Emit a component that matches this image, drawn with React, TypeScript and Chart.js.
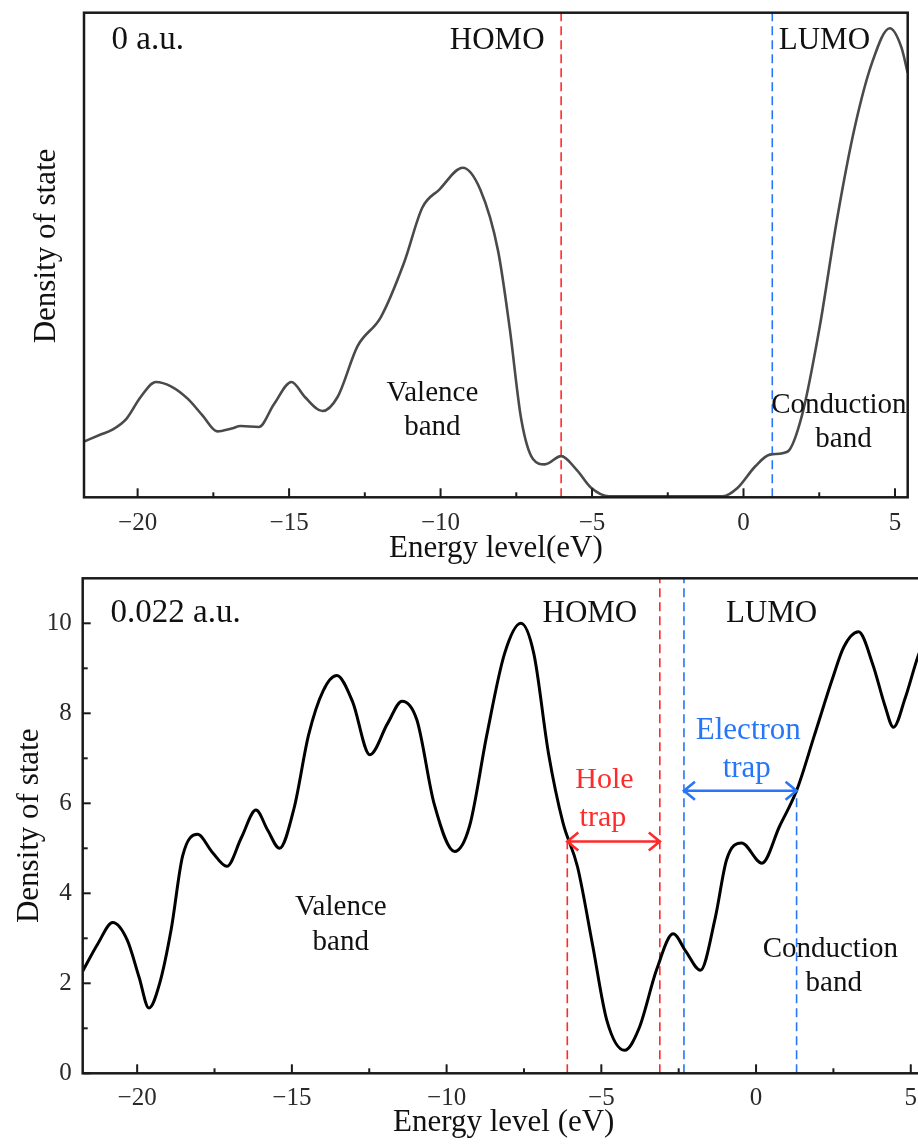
import React, { useEffect, useRef } from "react";
import { Chart, registerables } from "chart.js";

Chart.register(...registerables);

// ---------- data ----------
const topEnergy = [
  -21.77, -21.2, -20.85, -20.37, -19.9, -19.4, -18.9, -18.34, -17.86, -17.37, -16.9, -16.6, -16.0,
  -15.5, -14.92, -14.48, -13.9, -13.4, -12.74, -11.97, -11.2, -10.6, -10.04, -9.27, -8.69, -8.1,
  -7.72, -7.34, -6.95, -6.56, -6.02, -5.5, -5.02, -4.44, -0.68, -0.2, 0.39, 0.87, 1.45, 1.93, 2.51,
  3.09, 3.67, 4.25, 4.83, 5.21, 5.42,
];
const topDos = [
  11.5, 13.0, 13.9, 16.2, 20.7, 23.8, 22.9, 20.3, 16.9, 13.6, 14.2, 14.7, 14.5,
  19.2, 23.8, 20.7, 17.8, 20.7, 31.2, 37.2, 48.5, 59.8, 63.5, 68.0, 63.5, 50.8,
  35.0, 16.2, 7.9, 6.8, 8.5, 5.6, 1.9, 0.2, 0.2, 1.9, 6.4, 8.8, 9.4, 16.9, 35.0,
  57.5, 76.3, 89.8, 96.8, 92.9, 87.6,
];

const bottomEnergy = [
  -21.76, -21.27, -20.79, -20.32, -19.94, -19.62, -19.28, -18.9, -18.53, -18.05, -17.58, -17.1,
  -16.63, -16.16, -15.78, -15.4, -14.93, -14.46, -13.99, -13.55, -13.04, -12.48, -11.91, -11.44,
  -10.96, -10.4, -9.74, -9.26, -8.7, -8.13, -7.6, -7.18, -6.71, -6.24, -5.77, -5.29, -4.82, -4.25,
  -3.78, -3.21, -2.68, -2.27, -1.8, -1.32, -0.95, -0.47, 0.19, 0.76, 1.32, 1.89, 2.46, 2.84, 3.31,
  3.78, 4.16, 4.44, 4.82, 5.26, 5.45,
];
const bottomDos = [
  2.27, 2.88, 3.35, 2.96, 2.14, 1.45, 1.98, 3.2, 4.83, 5.31, 4.92, 4.6,
  5.24, 5.85, 5.4, 5.0, 5.89, 7.52, 8.5, 8.84, 8.26, 7.08, 7.77, 8.27,
  7.85, 5.98, 4.93, 5.49, 7.52, 9.32, 10.0, 9.32, 7.12, 5.57, 4.59, 2.88, 1.17, 0.51,
  1.0, 2.31, 3.1, 2.71, 2.29, 3.45, 4.75, 5.12, 4.67, 5.49, 6.3, 7.52, 8.75, 9.48, 9.81,
  9.07, 8.18, 7.69, 8.34, 9.32, 9.6,
];

const xMajorTicks = [-20, -15, -10, -5, 0, 5];
const xMinorTicks = [-17.5, -12.5, -7.5, -2.5, 2.5];
const yMajorTicks = [0, 2, 4, 6, 8, 10];
const yMinorTicks = [1, 3, 5, 7, 9];

// energy levels (eV)
const topHomo = -6.02;
const topLumo = 0.95;
const holeTrapStart = -6.1;
const holeTrapEnd = -3.11;
const electronTrapStart = -2.33;
const electronTrapEnd = 1.31;
const holeTrapLevel = 5.15;
const electronTrapLevel = 6.28;

// ---------- styling ----------
const FAMILY = "'Liberation Serif', 'Times New Roman', serif";
const RED = "#ff2a2a";
const BLUE = "#2676f5";
const INK = "#111";

type Label = { text: string; x: number; y: number; size: number; color?: string; align?: CanvasTextAlign };
type VLine = { x: number; from: number; to: number; color: string };
type Arrow = { x1: number; x2: number; y: number; color: string };

const topLabels: Label[] = [
  { text: "0 a.u.", x: -20.86, y: 92.5, size: 33, align: "left" },
  { text: "HOMO", x: -8.13, y: 92.5, size: 31 },
  { text: "LUMO", x: 2.67, y: 92.5, size: 31 },
  { text: "Valence", x: -10.27, y: 19.9, size: 29 },
  { text: "band", x: -10.27, y: 12.8, size: 29 },
  { text: "Conduction", x: 3.15, y: 17.3, size: 29 },
  { text: "band", x: 3.3, y: 10.3, size: 29 },
];
const bottomLabels: Label[] = [
  { text: "0.022 a.u.", x: -20.86, y: 10.04, size: 33, align: "left" },
  { text: "HOMO", x: -5.37, y: 10.02, size: 31 },
  { text: "LUMO", x: 0.5, y: 10.02, size: 31 },
  { text: "Hole", x: -4.9, y: 6.33, size: 30, color: RED },
  { text: "trap", x: -4.95, y: 5.5, size: 30, color: RED },
  { text: "Electron", x: -0.25, y: 7.43, size: 31, color: BLUE },
  { text: "trap", x: -0.3, y: 6.59, size: 31, color: BLUE },
  { text: "Valence", x: -13.42, y: 3.52, size: 29 },
  { text: "band", x: -13.42, y: 2.74, size: 29 },
  { text: "Conduction", x: 2.4, y: 2.59, size: 29 },
  { text: "band", x: 2.51, y: 1.84, size: 29 },
];

const topLines: VLine[] = [
  { x: topHomo, from: 0, to: 100, color: RED },
  { x: topLumo, from: 0, to: 100, color: BLUE },
];
const bottomLines: VLine[] = [
  { x: holeTrapStart, from: 0, to: holeTrapLevel, color: RED },
  { x: holeTrapEnd, from: 0, to: 11, color: RED },
  { x: electronTrapStart, from: 0, to: 11, color: BLUE },
  { x: electronTrapEnd, from: 0, to: electronTrapLevel, color: BLUE },
];
const bottomArrows: Arrow[] = [
  { x1: holeTrapStart, x2: holeTrapEnd, y: holeTrapLevel, color: RED },
  { x1: electronTrapStart, x2: electronTrapEnd, y: electronTrapLevel, color: BLUE },
];

const fmt = (v: any) => {
  const n = Number(v);
  return n < 0 ? "\u2212" + Math.abs(n) : String(n);
};

function makeOverlay(opts: {
  lines: VLine[];
  arrows: Arrow[];
  labels: Label[];
  yMajor?: number[];
  yMinor?: number[];
  yTitle?: { text: string; x: number; dy: number };
}) {
  return {
    id: "overlay",
    beforeDatasetsDraw(chart: any) {
      const { ctx } = chart;
      const xs = chart.scales.x;
      const ys = chart.scales.y;
      ctx.save();
      ctx.lineWidth = 1.6;
      ctx.setLineDash([9, 5]);
      for (const l of opts.lines) {
        const px = xs.getPixelForValue(l.x);
        ctx.strokeStyle = l.color;
        ctx.beginPath();
        ctx.moveTo(px, ys.getPixelForValue(l.from));
        ctx.lineTo(px, ys.getPixelForValue(l.to));
        ctx.stroke();
      }
      ctx.restore();
    },
    afterDatasetsDraw(chart: any) {
      const { ctx, chartArea } = chart;
      const xs = chart.scales.x;
      const ys = chart.scales.y;
      ctx.save();
      // frame
      ctx.strokeStyle = "#1a1a1a";
      ctx.lineWidth = 2.5;
      ctx.strokeRect(chartArea.left, chartArea.top, chartArea.right - chartArea.left, chartArea.bottom - chartArea.top);
      // inward ticks
      ctx.lineWidth = 2;
      const b = chartArea.bottom;
      const tickX = (vals: number[], len: number) => {
        for (const v of vals) {
          const px = xs.getPixelForValue(v);
          ctx.beginPath();
          ctx.moveTo(px, b);
          ctx.lineTo(px, b - len);
          ctx.stroke();
        }
      };
      tickX(xMajorTicks, 9);
      tickX(xMinorTicks, 5);
      const tickY = (vals: number[], len: number) => {
        for (const v of vals) {
          const py = ys.getPixelForValue(v);
          ctx.beginPath();
          ctx.moveTo(chartArea.left, py);
          ctx.lineTo(chartArea.left + len, py);
          ctx.stroke();
        }
      };
      if (opts.yMajor) tickY(opts.yMajor, 8);
      if (opts.yMinor) tickY(opts.yMinor, 5);
      // arrows
      ctx.lineWidth = 2.6;
      for (const a of opts.arrows) {
        const x1 = xs.getPixelForValue(a.x1);
        const x2 = xs.getPixelForValue(a.x2);
        const y = ys.getPixelForValue(a.y);
        ctx.strokeStyle = a.color;
        ctx.beginPath();
        ctx.moveTo(x1, y);
        ctx.lineTo(x2, y);
        ctx.moveTo(x1 + 11, y - 9);
        ctx.lineTo(x1, y);
        ctx.lineTo(x1 + 11, y + 9);
        ctx.moveTo(x2 - 11, y - 9);
        ctx.lineTo(x2, y);
        ctx.lineTo(x2 - 11, y + 9);
        ctx.stroke();
      }
      // labels
      ctx.textBaseline = "alphabetic";
      for (const l of opts.labels) {
        ctx.font = `${l.size}px ${FAMILY}`;
        ctx.fillStyle = l.color || INK;
        ctx.textAlign = l.align || "center";
        ctx.fillText(l.text, xs.getPixelForValue(l.x), ys.getPixelForValue(l.y));
      }
      if (opts.yTitle) {
        ctx.font = `31px ${FAMILY}`;
        ctx.fillStyle = INK;
        ctx.textAlign = "center";
        ctx.textBaseline = "middle";
        ctx.translate(opts.yTitle.x, (chartArea.top + chartArea.bottom) / 2 + opts.yTitle.dy);
        ctx.rotate(-Math.PI / 2);
        ctx.fillText(opts.yTitle.text, 0, 0);
      }
      ctx.restore();
    },
  };
}

function baseX(min: number, max: number, title: string, height: number, tickPad: number, titlePadBottom: number) {
  return {
    type: "linear",
    min,
    max,
    grid: { display: false },
    border: { display: false },
    afterBuildTicks: (s: any) => {
      s.ticks = xMajorTicks.map((v) => ({ value: v }));
    },
    afterFit: (s: any) => {
      s.height = height;
      s.paddingLeft = 0;
      s.paddingRight = 0;
    },
    ticks: {
      font: { family: FAMILY, size: 25 },
      color: "#2a2a2a",
      padding: tickPad,
      maxRotation: 0,
      autoSkip: false,
      callback: fmt,
    },
    title: {
      display: true,
      text: title,
      font: { family: FAMILY, size: 31 },
      color: INK,
      padding: { top: 0, bottom: titlePadBottom },
    },
  };
}

export default function App() {
  const topRef = useRef<HTMLCanvasElement | null>(null);
  const botRef = useRef<HTMLCanvasElement | null>(null);

  useEffect(() => {
    const top = new Chart(topRef.current as HTMLCanvasElement, {
      type: "line",
      data: {
        datasets: [
          {
            data: topEnergy.map((x, i) => ({ x, y: topDos[i] })),
            borderColor: "#4a4a4a",
            borderWidth: 2.6,
            pointRadius: 0,
            fill: false,
            cubicInterpolationMode: "monotone",
          },
        ],
      },
      options: {
        animation: false,
        responsive: false,
        maintainAspectRatio: false,
        events: [],
        layout: { padding: { left: 0, right: 10.3, top: 12.7, bottom: 0 } },
        plugins: { legend: { display: false }, tooltip: { enabled: false } },
        scales: {
          x: baseX(-21.77, 5.42, "Energy level(eV)", 72.7, 3, 2.4) as any,
          y: {
            type: "linear",
            min: 0,
            max: 100,
            grid: { display: false },
            border: { display: false },
            ticks: { display: false },
            afterFit: (s: any) => {
              s.width = 84;
              s.paddingTop = 0;
              s.paddingBottom = 0;
            },
          },
        },
      },
      plugins: [
        makeOverlay({
          lines: topLines,
          arrows: [],
          labels: topLabels,
          yTitle: { text: "Density of state", x: 47, dy: -9 },
        }) as any,
      ],
    } as any);

    const bottom = new Chart(botRef.current as HTMLCanvasElement, {
      type: "line",
      data: {
        datasets: [
          {
            data: bottomEnergy.map((x, i) => ({ x, y: bottomDos[i] })),
            borderColor: "#000",
            borderWidth: 3,
            pointRadius: 0,
            fill: false,
            cubicInterpolationMode: "monotone",
          },
        ],
      },
      options: {
        animation: false,
        responsive: false,
        maintainAspectRatio: false,
        events: [],
        layout: { padding: { left: 0, right: 10.3, top: 8.3, bottom: 0 } },
        plugins: { legend: { display: false }, tooltip: { enabled: false } },
        scales: {
          x: baseX(-21.76, 5.45, "Energy level (eV)", 71.7, 2, 3.4) as any,
          y: {
            type: "linear",
            min: 0,
            max: 11,
            grid: { display: false },
            border: { display: false },
            afterBuildTicks: (s: any) => {
              s.ticks = yMajorTicks.map((v) => ({ value: v }));
            },
            afterFit: (s: any) => {
              s.width = 82.7;
              s.paddingTop = 0;
              s.paddingBottom = 0;
            },
            ticks: {
              font: { family: FAMILY, size: 25 },
              color: "#2a2a2a",
              padding: 3,
            },
            title: {
              display: true,
              text: "Density of state",
              font: { family: FAMILY, size: 31 },
              color: INK,
              padding: { top: 11, bottom: 0 },
            },
          },
        },
      },
      plugins: [
        makeOverlay({
          lines: bottomLines,
          arrows: bottomArrows,
          labels: bottomLabels,
          yMajor: yMajorTicks,
          yMinor: yMinorTicks,
        }) as any,
      ],
    } as any);

    return () => {
      top.destroy();
      bottom.destroy();
    };
  }, []);

  return (
    <div
      style={{
        position: "fixed",
        left: 0,
        top: 0,
        width: 918,
        height: 1145,
        overflow: "hidden",
        background: "#fff",
      }}
    >
      <canvas
        ref={topRef}
        width={918}
        height={570}
        style={{ position: "absolute", left: 0, top: 0, width: 918, height: 570 }}
      />
      <canvas
        ref={botRef}
        width={935}
        height={575}
        style={{ position: "absolute", left: 0, top: 570, width: 935, height: 575 }}
      />
    </div>
  );
}
